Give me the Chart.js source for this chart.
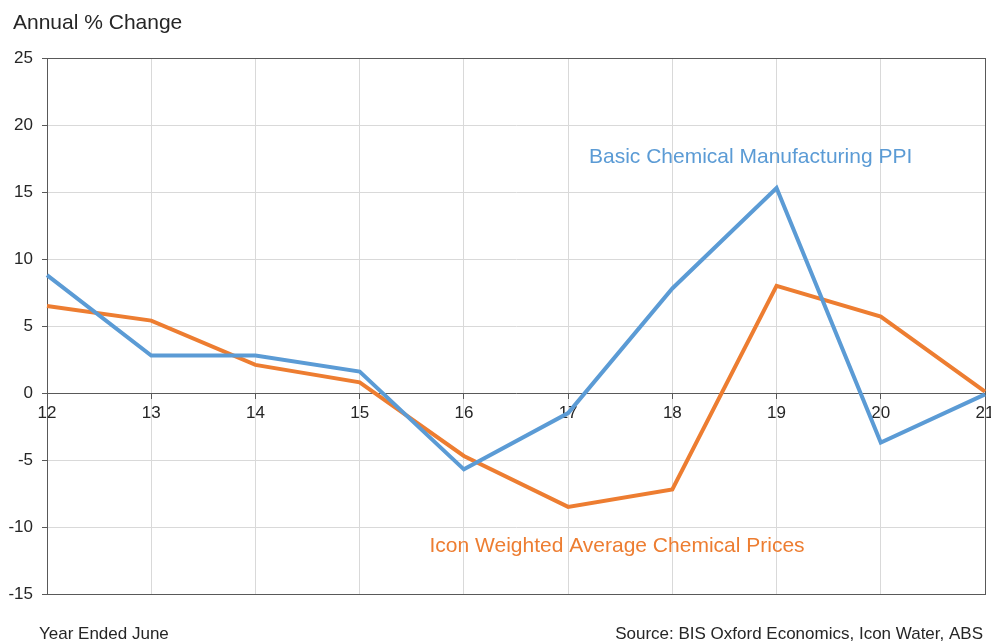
<!DOCTYPE html>
<html>
<head>
<meta charset="utf-8">
<title>Annual % Change – Chemical Prices</title>
<script src="https://cdn.jsdelivr.net/npm/chart.js@4.4.1/dist/chart.umd.min.js"></script>
<style>
  html, body { margin: 0; padding: 0; background: #ffffff; }
  #wrap { width: 991px; height: 641px; position: relative; }
</style>
</head>
<body>
<div id="wrap"><canvas id="chart" width="991" height="641"></canvas></div>
<script>
// Year ended June (two-digit years)
const years = ['12', '13', '14', '15', '16', '17', '18', '19', '20', '21'];
// Basic Chemical Manufacturing PPI, annual % change
const ppiChange = [8.8, 2.8, 2.8, 1.6, -5.7, -1.5, 7.8, 15.3, -3.7, -0.1];
// Icon Water weighted average chemical prices, annual % change
const iconChange = [6.5, 5.4, 2.1, 0.8, -4.7, -8.5, -7.2, 8.0, 5.7, 0.1];
// Value axis ticks
const yTicks = [25, 20, 15, 10, 5, 0, -5, -10, -15];

const BLUE = '#5B9BD5';
const ORANGE = '#ED7D31';
const AXIS = '#595959';
const GRID = '#D9D9D9';
const TEXT = '#262626';
const FONT = '"Liberation Sans", Arial, sans-serif';

// Frame around the plot area plus headings, footers and series captions
const decorations = {
  id: 'decorations',
  beforeDatasetsDraw(chart) {
    const { ctx, chartArea: a } = chart;
    ctx.save();
    ctx.strokeStyle = AXIS;
    ctx.lineWidth = 1;
    ctx.strokeRect(Math.round(a.left) + 0.5, Math.round(a.top) + 0.5,
                   Math.round(a.right - a.left), Math.round(a.bottom - a.top));
    ctx.restore();
  },
  afterDraw(chart) {
    const { ctx, scales } = chart;
    const x = scales.x, y = scales.y;
    ctx.save();
    ctx.textBaseline = 'middle';

    ctx.fillStyle = TEXT;
    ctx.font = '21px ' + FONT;
    ctx.textAlign = 'left';
    ctx.fillText('Annual % Change', 13, 23);

    ctx.font = '17px ' + FONT;
    ctx.fillText('Year Ended June', 39, 634);
    ctx.textAlign = 'right';
    ctx.fillText('Source: BIS Oxford Economics, Icon Water, ABS', 983, 634);

    ctx.font = '21px ' + FONT;
    ctx.textAlign = 'left';
    ctx.fillStyle = BLUE;
    ctx.fillText('Basic Chemical Manufacturing PPI', x.getPixelForValue(5.2), y.getPixelForValue(17.6));
    ctx.fillStyle = ORANGE;
    ctx.fillText('Icon Weighted Average Chemical Prices', x.getPixelForValue(3.67), y.getPixelForValue(-11.4));
    ctx.restore();
  }
};

new Chart(document.getElementById('chart'), {
  type: 'line',
  data: {
    labels: years,
    datasets: [
      {
        label: 'Basic Chemical Manufacturing PPI',
        data: ppiChange,
        borderColor: BLUE,
        backgroundColor: BLUE,
        borderWidth: 4,
        pointRadius: 0,
        tension: 0,
        clip: false
      },
      {
        label: 'Icon Weighted Average Chemical Prices',
        data: iconChange,
        borderColor: ORANGE,
        backgroundColor: ORANGE,
        borderWidth: 4,
        pointRadius: 0,
        tension: 0,
        clip: false
      }
    ]
  },
  options: {
    responsive: false,
    animation: false,
    devicePixelRatio: 1,
    layout: { padding: { left: 0, top: 58, right: 6, bottom: 47 } },
    plugins: {
      legend: { display: false },
      tooltip: { enabled: false },
      title: { display: false }
    },
    scales: {
      x: {
        type: 'category',
        position: { y: 0 },
        offset: false,
        afterFit(scale) { scale.paddingLeft = 0; scale.paddingRight = 0; },
        grid: {
          color: GRID,
          lineWidth: 1,
          drawTicks: true,
          tickLength: 5,
          tickColor: AXIS
        },
        border: { display: true, color: AXIS, width: 1 },
        ticks: {
          autoSkip: false,
          maxRotation: 0,
          minRotation: 0,
          padding: 5,
          color: TEXT,
          font: { family: FONT, size: 17 }
        }
      },
      y: {
        min: -15,
        max: 25,
        afterFit(scale) { scale.width = 47; scale.paddingTop = 0; scale.paddingBottom = 0; },
        afterBuildTicks(scale) { scale.ticks = yTicks.map(v => ({ value: v })); },
        grid: {
          color: GRID,
          lineWidth: 1,
          drawTicks: true,
          tickLength: 5,
          tickColor: AXIS
        },
        border: { display: true, color: AXIS, width: 1 },
        ticks: {
          padding: 9,
          color: TEXT,
          font: { family: FONT, size: 17 }
        }
      }
    }
  },
  plugins: [decorations]
});
</script>
</body>
</html>
